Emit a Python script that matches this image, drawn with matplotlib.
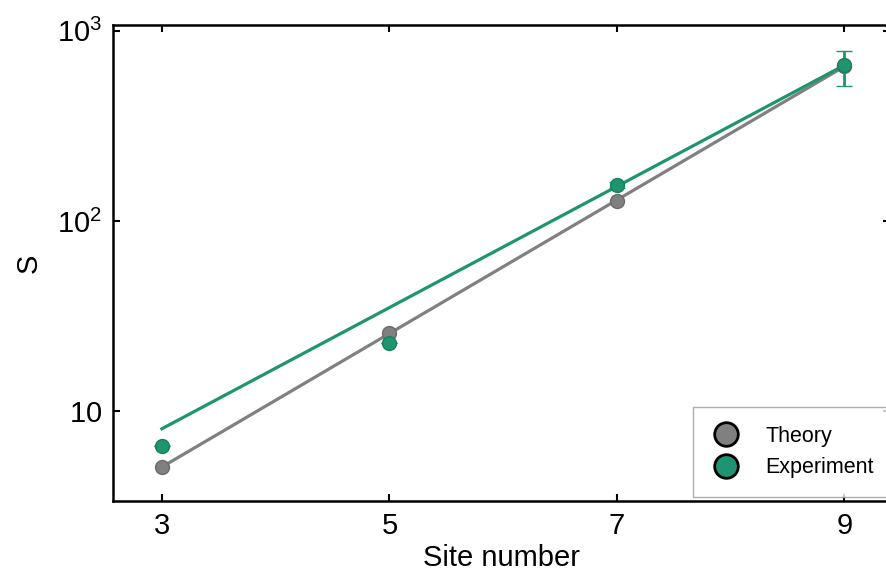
import matplotlib
matplotlib.use("Agg")
import matplotlib.pyplot as plt
import numpy as np

plt.rcParams["font.family"] = ["Liberation Sans", "DejaVu Sans"]
plt.rcParams["mathtext.fontset"] = "custom"
plt.rcParams["mathtext.rm"] = "Liberation Sans"
plt.rcParams["mathtext.it"] = "Liberation Sans"

# data
sites = [3, 5, 7, 9]
theory = [5.1, 25.9, 127, 650]
experiment = [6.6, 23.0, 155, 660]
exp_err_low = [0, 0, 6, 150]
exp_err_high = [0, 0, 6, 120]

# exponential fits (end points)
fit_x = [3, 9]
theory_fit = [5.1, 650]
experiment_fit = [8.1, 660]

y_ticks = [10, 100, 1000]
y_ticklabels = ["$10$", "$10^2$", "$10^3$"]

gray = "#808080"
green = "#1f9470"

fig = plt.figure(figsize=(8.86, 5.75), dpi=100)
ax = fig.add_axes([0.1275, 0.1287, 0.877, 0.8278])

ax.plot(fit_x, theory_fit, color=gray, lw=2.3, zorder=2)
ax.plot(fit_x, experiment_fit, color=green, lw=2.3, zorder=2)

ax.plot(sites, theory, "o", color=gray, mec="#6a6a6a", mew=1, ms=10, zorder=3)
ax.errorbar(sites, experiment, yerr=[exp_err_low, exp_err_high], fmt="o",
            color=green, mec="#17805f", mew=1, ms=10, elinewidth=2,
            capsize=6, capthick=2, zorder=4)

ax.set_yscale("log")
ax.set_xlim(2.57, 9.4)
ax.set_ylim(3.38, 1073)
ax.set_xticks(sites)
ax.set_yticks(y_ticks)
ax.set_yticklabels(y_ticklabels)
ax.yaxis.set_minor_locator(matplotlib.ticker.NullLocator())

ax.tick_params(axis="both", which="major", direction="in", length=5, width=1.5,
               labelsize=21, top=True, right=True, pad=8)
for s in ax.spines.values():
    s.set_linewidth(1.8)

ax.set_xlabel("Site number", fontsize=21, labelpad=3)
ax.set_ylabel("S", fontsize=21, labelpad=10)

# legend handles with black edge
h1 = plt.Line2D([], [], marker="o", ls="", color=gray, mec="black", mew=2, ms=17)
h2 = plt.Line2D([], [], marker="o", ls="", color=green, mec="black", mew=2, ms=17)
leg = ax.legend([h1, h2], ["Theory", "Experiment"], loc="lower right",
                bbox_to_anchor=(1.008, 0.0), fontsize=15.5, frameon=True,
                fancybox=False, borderaxespad=0.2, handlelength=1.4,
                handletextpad=1.1, labelspacing=0.5, borderpad=0.85)
leg.get_frame().set_edgecolor("#999999")
leg.get_frame().set_linewidth(1)

fig.savefig("out.png", dpi=100)
